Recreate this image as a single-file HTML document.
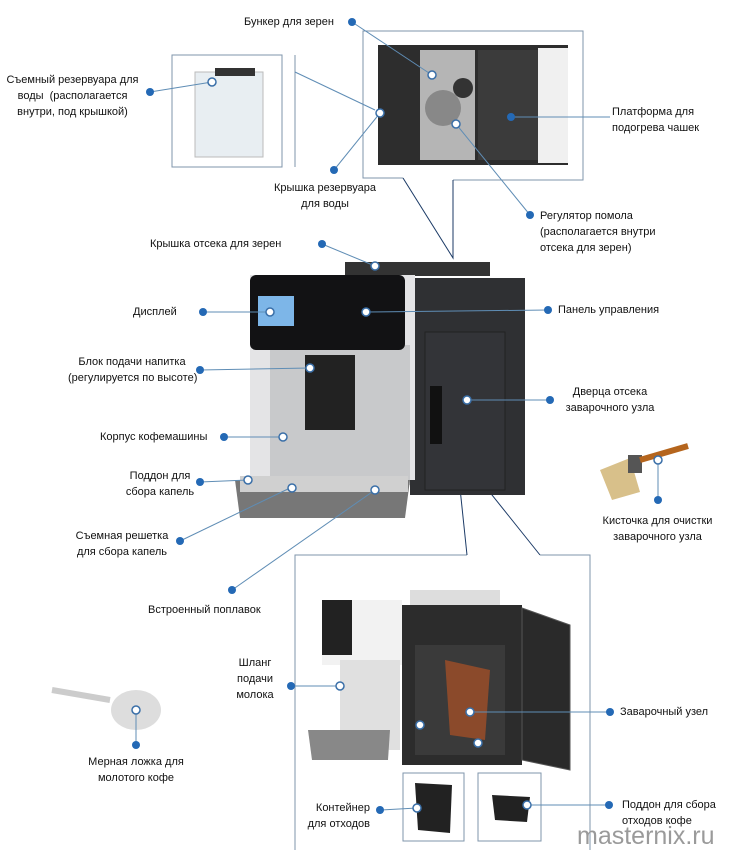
<!DOCTYPE html>
<html><head><meta charset="utf-8"><style>
body{margin:0;width:729px;height:850px;background:#fff;position:relative;overflow:hidden;font-family:"Liberation Sans",sans-serif;}
.t{position:absolute;font-size:11px;line-height:16px;color:#111;white-space:nowrap}
.c{text-align:center}
svg{position:absolute;left:0;top:0}
.wm{position:absolute;left:577px;top:822px;font-size:25px;color:#9a9a9a;}
</style></head><body>
<svg width="729" height="850">
<g fill="none" stroke="#7f95ab" stroke-width="1">
<rect x="172" y="55" width="110" height="112"/>
<line x1="295" y1="55" x2="295" y2="167"/>
<path d="M453 180 L583 180 L583 31 L363 31 L363 178 L403 178"/>
<path d="M467 555 L295 555 L295 851 M540 555 L590 555 L590 851"/>
<rect x="403" y="773" width="61" height="68"/>
<rect x="478" y="773" width="63" height="68"/>
</g>
<g fill="none" stroke="#1b3a66" stroke-width="1">
<path d="M403 178 L453 258 L453 180"/>
<path d="M467 555 L456 450 L540 555"/>
</g>
<!-- water tank -->
<rect x="195" y="72" width="68" height="85" fill="#e8eef2" stroke="#bbb"/>
<rect x="215" y="68" width="40" height="8" fill="#333"/>
<!-- top box interior -->
<rect x="378" y="45" width="190" height="120" fill="#2d2d2d"/>
<rect x="420" y="50" width="55" height="110" fill="#b5b5b5"/>
<rect x="478" y="50" width="60" height="110" fill="#3b3b3b"/>
<rect x="538" y="48" width="30" height="115" fill="#f0f0f0"/>
<circle cx="443" cy="108" r="18" fill="#888"/>
<circle cx="463" cy="88" r="10" fill="#333"/>
<!-- machine -->
<rect x="345" y="262" width="145" height="14" fill="#333"/>
<rect x="410" y="278" width="115" height="217" fill="#2f3033"/>
<rect x="425" y="332" width="80" height="158" fill="#333438" stroke="#222"/>
<rect x="430" y="386" width="12" height="58" fill="#111"/>
<rect x="250" y="275" width="165" height="205" fill="#e4e4e6"/>
<rect x="270" y="345" width="140" height="140" fill="#c8c9cb"/>
<rect x="305" y="355" width="50" height="75" fill="#222"/>
<rect x="250" y="275" width="155" height="75" rx="6" fill="#121214"/>
<rect x="258" y="296" width="36" height="30" fill="#7db6e8"/>
<path d="M235 480 L410 480 L405 518 L240 518 Z" fill="#777"/>
<rect x="240" y="476" width="168" height="16" fill="#d0d0d0"/>
<!-- brush -->
<path d="M600 470 L630 458 L640 492 L612 500 Z" fill="#d8c08a"/>
<rect x="628" y="455" width="14" height="18" fill="#555"/>
<path d="M640 460 L688 446" stroke="#b5651d" stroke-width="6"/>
<!-- spoon -->
<path d="M52 690 L110 700" stroke="#ccc" stroke-width="6"/>
<ellipse cx="136" cy="710" rx="25" ry="20" fill="#ddd"/>
<!-- bottom box interior -->
<rect x="322" y="600" width="80" height="65" fill="#f2f2f2"/>
<rect x="322" y="600" width="30" height="55" fill="#222"/>
<rect x="402" y="605" width="120" height="160" fill="#2c2c2c"/>
<rect x="415" y="645" width="90" height="110" fill="#3a3a3a"/>
<path d="M445 660 L490 670 L485 740 L450 735 Z" fill="#8b4a2b"/>
<path d="M522 608 L570 625 L570 770 L522 760 Z" fill="#2a2a2a" stroke="#555"/>
<rect x="410" y="590" width="90" height="15" fill="#ddd"/>
<rect x="340" y="660" width="60" height="90" fill="#e0e0e0"/>
<path d="M308 730 L390 730 L388 760 L312 760 Z" fill="#888"/>
<path d="M415 783 L452 785 L450 833 L418 830 Z" fill="#222"/>
<path d="M492 795 L530 797 L527 822 L495 820 Z" fill="#222"/>
<!-- connectors -->
<g stroke="#5f8db5" stroke-width="1" fill="none">
<line x1="352" y1="22" x2="432" y2="75"/>
<line x1="150" y1="92" x2="212" y2="82"/>
<line x1="295" y1="72" x2="375" y2="110"/>
<line x1="511" y1="117" x2="610" y2="117"/>
<line x1="380" y1="113" x2="334" y2="170"/>
<line x1="456" y1="124" x2="530" y2="215"/>
<line x1="322" y1="244" x2="375" y2="266"/>
<line x1="203" y1="312" x2="270" y2="312"/>
<line x1="548" y1="310" x2="366" y2="312"/>
<line x1="200" y1="370" x2="310" y2="368"/>
<line x1="550" y1="400" x2="467" y2="400"/>
<line x1="224" y1="437" x2="283" y2="437"/>
<line x1="200" y1="482" x2="248" y2="480"/>
<line x1="180" y1="541" x2="290" y2="488"/>
<line x1="232" y1="590" x2="375" y2="490"/>
<line x1="658" y1="460" x2="658" y2="500"/>
<line x1="291" y1="686" x2="340" y2="686"/>
<line x1="610" y1="712" x2="470" y2="712"/>
<line x1="136" y1="745" x2="136" y2="710"/>
<line x1="380" y1="810" x2="417" y2="808"/>
<line x1="609" y1="805" x2="527" y2="805"/>
</g>
<g fill="#2469b5">
<circle cx="352" cy="22" r="4"/><circle cx="150" cy="92" r="4"/><circle cx="511" cy="117" r="4"/>
<circle cx="334" cy="170" r="4"/><circle cx="530" cy="215" r="4"/><circle cx="322" cy="244" r="4"/>
<circle cx="203" cy="312" r="4"/><circle cx="548" cy="310" r="4"/><circle cx="200" cy="370" r="4"/>
<circle cx="550" cy="400" r="4"/><circle cx="224" cy="437" r="4"/><circle cx="200" cy="482" r="4"/>
<circle cx="180" cy="541" r="4"/><circle cx="232" cy="590" r="4"/><circle cx="658" cy="500" r="4"/>
<circle cx="291" cy="686" r="4"/><circle cx="610" cy="712" r="4"/><circle cx="136" cy="745" r="4"/>
<circle cx="380" cy="810" r="4"/><circle cx="609" cy="805" r="4"/>
</g>
<g fill="#fff" stroke="#3a6fa8" stroke-width="1.5">
<circle cx="432" cy="75" r="4"/><circle cx="212" cy="82" r="4"/><circle cx="380" cy="113" r="4"/>
<circle cx="456" cy="124" r="4"/><circle cx="375" cy="266" r="4"/><circle cx="270" cy="312" r="4"/>
<circle cx="366" cy="312" r="4"/><circle cx="310" cy="368" r="4"/><circle cx="467" cy="400" r="4"/>
<circle cx="283" cy="437" r="4"/><circle cx="248" cy="480" r="4"/><circle cx="292" cy="488" r="4"/>
<circle cx="375" cy="490" r="4"/><circle cx="658" cy="460" r="4"/><circle cx="340" cy="686" r="4"/>
<circle cx="470" cy="712" r="4"/><circle cx="136" cy="710" r="4"/><circle cx="417" cy="808" r="4"/>
<circle cx="527" cy="805" r="4"/><circle cx="420" cy="725" r="4"/><circle cx="478" cy="743" r="4"/>
</g>
</svg>
<div class="t" style="left:244px;top:14px">Бункер для зерен</div>
<div class="t c" style="left:0px;top:72px;width:145px">Съемный резервуара для<br>воды &nbsp;(располагается<br>внутри, под крышкой)</div>
<div class="t" style="left:612px;top:104px">Платформа для<br>подогрева чашек</div>
<div class="t c" style="left:270px;top:180px;width:110px">Крышка резервуара<br>для воды</div>
<div class="t" style="left:540px;top:208px">Регулятор помола<br>(располагается внутри<br>отсека для зерен)</div>
<div class="t" style="left:150px;top:236px">Крышка отсека для зерен</div>
<div class="t" style="left:133px;top:304px">Дисплей</div>
<div class="t" style="left:558px;top:302px">Панель управления</div>
<div class="t c" style="left:68px;top:354px;width:128px">Блок подачи напитка<br>(регулируется по высоте)</div>
<div class="t c" style="left:560px;top:384px;width:100px">Дверца отсека<br>заварочного узла</div>
<div class="t" style="left:100px;top:429px">Корпус кофемашины</div>
<div class="t c" style="left:120px;top:468px;width:80px">Поддон для<br>сбора капель</div>
<div class="t c" style="left:595px;top:513px;width:125px">Кисточка для очистки<br>заварочного узла</div>
<div class="t c" style="left:70px;top:528px;width:104px">Съемная решетка<br>для сбора капель</div>
<div class="t" style="left:148px;top:602px">Встроенный поплавок</div>
<div class="t c" style="left:225px;top:655px;width:60px">Шланг<br>подачи<br>молока</div>
<div class="t" style="left:620px;top:704px">Заварочный узел</div>
<div class="t c" style="left:80px;top:754px;width:112px">Мерная ложка для<br>молотого кофе</div>
<div class="t" style="left:300px;top:800px;width:70px;text-align:right">Контейнер<br>для отходов</div>
<div class="t" style="left:622px;top:797px">Поддон для сбора<br>отходов кофе</div>
<div class="wm">masternix.ru</div>
</body></html>
